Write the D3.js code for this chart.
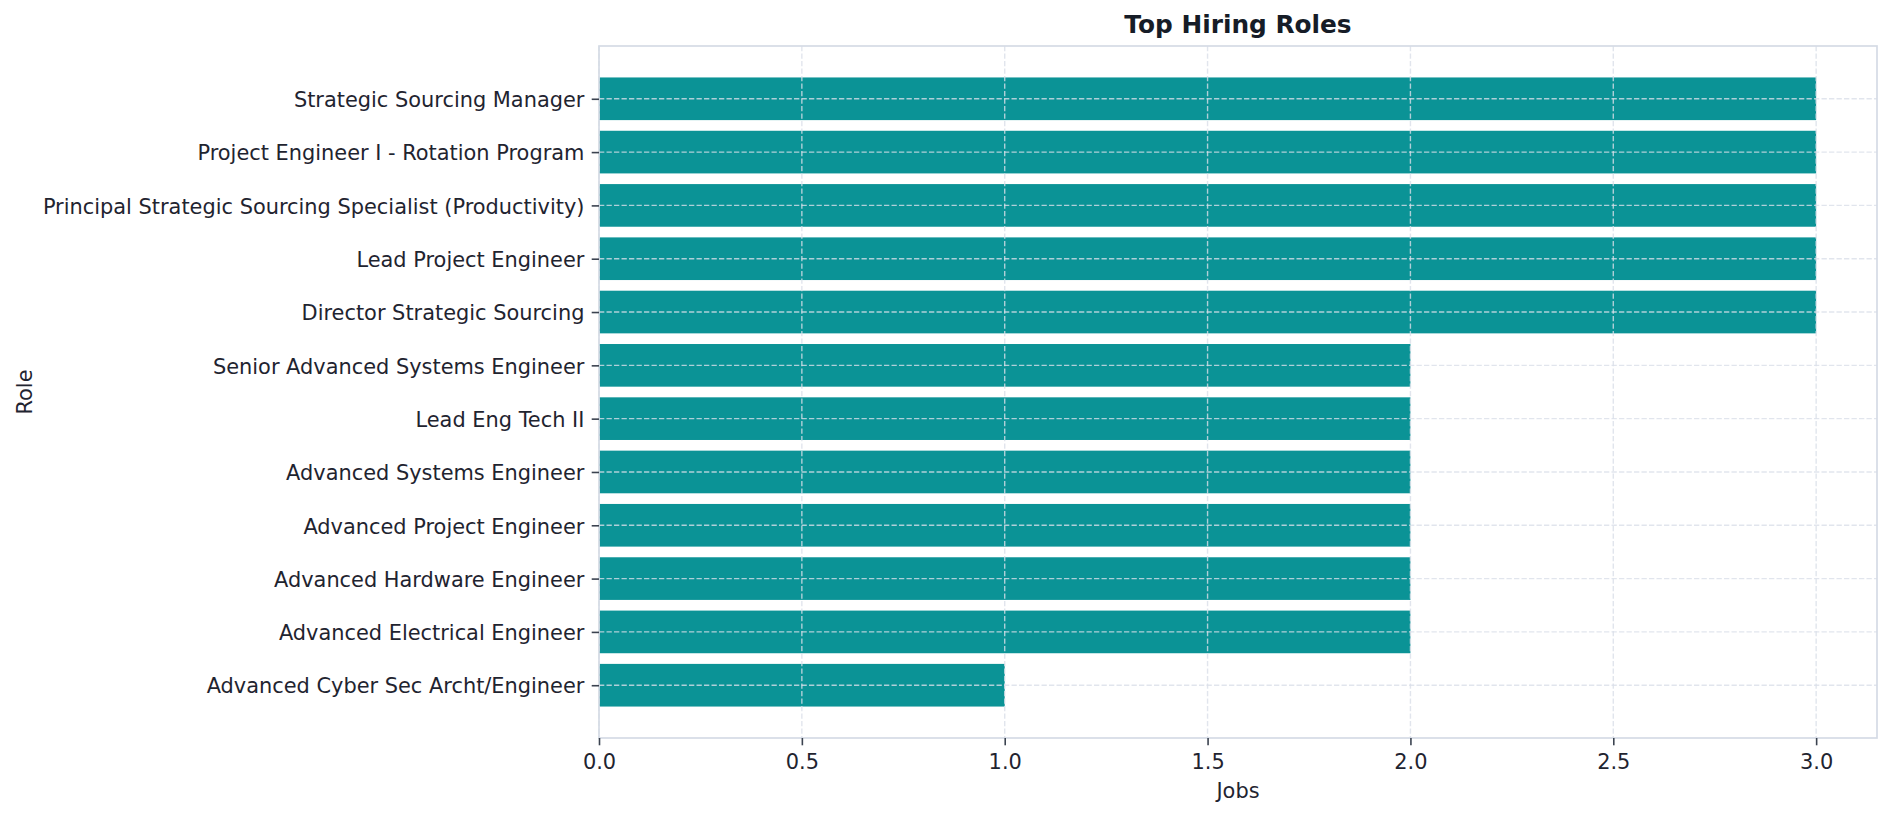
<!DOCTYPE html>
<html>
<head>
<meta charset="utf-8">
<script src="https://cdn.jsdelivr.net/npm/d3@7"></script>
<style>
  html, body { margin: 0; padding: 0; background: #ffffff; }
  svg { display: block; font-family: "DejaVu Sans", sans-serif; }
</style>
</head>
<body>
<svg id="chart" width="1892" height="817"></svg>
<script>
// Data (top to bottom as displayed)
const roles = [
  "Strategic Sourcing Manager",
  "Project Engineer I - Rotation Program",
  "Principal Strategic Sourcing Specialist (Productivity)",
  "Lead Project Engineer",
  "Director Strategic Sourcing",
  "Senior Advanced Systems Engineer",
  "Lead Eng Tech II",
  "Advanced Systems Engineer",
  "Advanced Project Engineer",
  "Advanced Hardware Engineer",
  "Advanced Electrical Engineer",
  "Advanced Cyber Sec Archt/Engineer"
];
const jobs = [3, 3, 3, 3, 3, 2, 2, 2, 2, 2, 2, 1];
const xTicks = [0, 0.5, 1.0, 1.5, 2.0, 2.5, 3.0];
const titleText = "Top Hiring Roles";
const xLabel = "Jobs";
const yLabel = "Role";

const svg = d3.select("#chart");
const L = 599, R = 1877, T = 46, B = 738;
const n = roles.length;
const barH = 0.8;
const xMax = d3.max(jobs) * 1.05;
const yMin = -barH / 2 - 0.05 * (n - 1 + barH);
const yMax = (n - 1) + barH / 2 + 0.05 * (n - 1 + barH);

const x = d3.scaleLinear().domain([0, xMax]).range([L, R]);
const y = d3.scaleLinear().domain([yMin, yMax]).range([B, T]);
const pos = i => n - 1 - i;

const teal = "#0b9396";
const gridColor = "#d9dee9";
const spineColor = "#d5dbe5";
const tickColor = "#3b4350";
const textColor = "#1f2430";
const fs = 20.9;

// Bars
svg.append("g").selectAll("rect").data(jobs).join("rect")
  .attr("x", x(0))
  .attr("y", (d, i) => y(pos(i) + barH / 2))
  .attr("width", d => x(d) - x(0))
  .attr("height", (d, i) => y(pos(i) - barH / 2) - y(pos(i) + barH / 2))
  .attr("fill", teal);

// Grid (drawn above bars)
const grid = svg.append("g").attr("stroke", gridColor).attr("stroke-opacity", 0.8)
  .attr("stroke-width", 1.4).attr("stroke-dasharray", "5.3,2.2");
grid.selectAll("line.v").data(xTicks).join("line").attr("class", "v")
  .attr("x1", d => x(d)).attr("x2", d => x(d)).attr("y1", T).attr("y2", B);
grid.selectAll("line.h").data(roles).join("line").attr("class", "h")
  .attr("x1", L).attr("x2", R)
  .attr("y1", (d, i) => y(pos(i))).attr("y2", (d, i) => y(pos(i)));

// Spines
svg.append("rect").attr("x", L).attr("y", T).attr("width", R - L).attr("height", B - T)
  .attr("fill", "none").attr("stroke", spineColor).attr("stroke-width", 1.7);

// X axis
const xAxis = d3.axisBottom(x).tickValues(xTicks).tickFormat(d3.format(".1f"))
  .tickSizeInner(7.3).tickSizeOuter(0).tickPadding(9.3);
const gx = svg.append("g").attr("transform", `translate(0,${B})`).call(xAxis);
gx.select(".domain").remove();
gx.selectAll(".tick line").attr("stroke", tickColor).attr("stroke-width", 1.6);
gx.selectAll(".tick text").attr("fill", textColor).attr("font-size", fs)
  .attr("font-family", "DejaVu Sans");

// Y axis
const yAxis = d3.axisLeft(y).tickValues(d3.range(n)).tickFormat(v => roles[n - 1 - v])
  .tickSizeInner(7.3).tickSizeOuter(0).tickPadding(7.3);
const gy = svg.append("g").attr("transform", `translate(${L},0)`).call(yAxis);
gy.select(".domain").remove();
gy.selectAll(".tick line").attr("stroke", tickColor).attr("stroke-width", 1.6);
gy.selectAll(".tick text").attr("fill", textColor).attr("font-size", fs)
  .attr("font-family", "DejaVu Sans").attr("dy", "0.37em");

// Title
svg.append("text").attr("x", (L + R) / 2).attr("y", 33).attr("text-anchor", "middle")
  .attr("font-size", 24.8).attr("font-weight", "bold").attr("fill", "#161c27")
  .text(titleText);

// Axis labels
svg.append("text").attr("x", (L + R) / 2).attr("y", 798).attr("text-anchor", "middle")
  .attr("font-size", fs).attr("fill", textColor).text(xLabel);
svg.append("text").attr("transform", `translate(32,${(T + B) / 2}) rotate(-90)`)
  .attr("text-anchor", "middle").attr("font-size", fs).attr("fill", textColor).text(yLabel);
</script>
</body>
</html>
